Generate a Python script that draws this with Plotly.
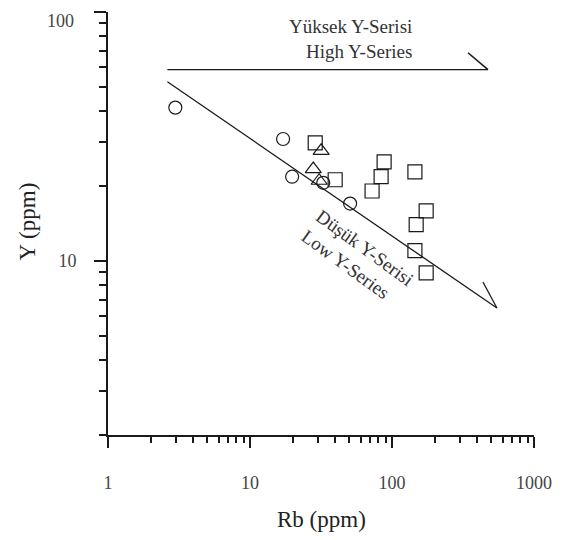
import plotly.graph_objects as go

# ---- data ----
circle_rb = [2.98, 17.1, 19.8, 32.8, 50.7]
circle_y = [41.3, 30.9, 21.8, 20.6, 17.0]

triangle_rb = [31.7, 27.9, 30.7]
triangle_y = [27.7, 23.4, 21.0]

square_rb = [28.8, 88.0, 83.8, 72.4, 145, 174, 148, 145, 174, 39.8]
square_y = [29.8, 25.0, 21.8, 19.1, 22.8, 15.9, 14.0, 11.0, 8.95, 21.2]

high_line_rb = [2.62, 474]
high_line_y = [58.7, 58.7]
high_arrow_rb = [343, 474]
high_arrow_y = [68.6, 58.7]

low_line_rb = [2.62, 548]
low_line_y = [52.5, 6.47]
low_arrow_rb = [437, 548]
low_arrow_y = [8.23, 6.47]

x_major = [1, 10, 100, 1000]
x_major_text = ["1", "10", "100", "1000"]
x_minor = [2, 3, 4, 5, 6, 7, 8, 9, 20, 30, 40, 50, 60, 70, 80, 90,
           200, 300, 400, 500, 600, 700, 800, 900]
y_major = [10, 100]
y_major_text = ["10", ""]          # the top label "100" is drawn as text below
y_top_label = "100"
y_minor = [2, 3, 4, 5, 6, 7, 8, 9, 20, 30, 40, 50, 60, 70, 80, 90]

high_label = "Yüksek Y-Serisi<br>High Y-Series"
low_label = "Düşük Y-Serisi<br>Low Y-Series"
x_title = "Rb (ppm)"
y_title = "Y (ppm)"

SERIF = "Liberation Serif, Times New Roman, serif"
INK = "#1a1a1a"
TICKFONT = dict(family=SERIF, size=18, color="#444")

fig = go.Figure()

for xs, ys, w in [(high_line_rb, high_line_y, 1.1), (high_arrow_rb, high_arrow_y, 1.6),
                  (low_line_rb, low_line_y, 1.3), (low_arrow_rb, low_arrow_y, 1.3)]:
    fig.add_trace(go.Scatter(x=xs, y=ys, mode="lines",
                             line=dict(color=INK, width=w), hoverinfo="skip"))

fig.add_trace(go.Scatter(x=circle_rb, y=circle_y, mode="markers",
                         marker=dict(symbol="circle-open", size=13, color=INK,
                                     line=dict(width=1.2, color=INK))))
fig.add_trace(go.Scatter(x=triangle_rb, y=triangle_y, mode="markers",
                         marker=dict(symbol="triangle-up-open", size=14, color=INK,
                                     line=dict(width=1.2, color=INK))))
fig.add_trace(go.Scatter(x=square_rb, y=square_y, mode="markers",
                         marker=dict(symbol="square-open", size=14, color=INK,
                                     line=dict(width=1.2, color=INK))))

axis_common = dict(
    type="log", showgrid=False, zeroline=False, showline=True, automargin=False,
    linecolor=INK, linewidth=2, ticks="outside", tickwidth=2, tickcolor=INK,
    tickfont=TICKFONT,
)

fig.update_xaxes(**axis_common, range=[0, 3], tickvals=x_major, ticktext=x_major_text,
                 ticklen=11, ticklabelstandoff=19,
                 minor=dict(tickvals=x_minor, ticks="outside", ticklen=6,
                            tickwidth=1.6, tickcolor=INK, showgrid=False))
fig.update_yaxes(**axis_common, range=[0.30103, 2], tickvals=y_major, ticktext=y_major_text,
                 ticklen=12, ticklabelstandoff=14,
                 minor=dict(tickvals=y_minor, ticks="outside", ticklen=7,
                            tickwidth=1.6, tickcolor=INK, showgrid=False))

fig.add_annotation(text=y_top_label, x=-0.076, y=1.007, xref="paper", yref="paper",
                   xanchor="right", yanchor="top", showarrow=False, font=TICKFONT)
fig.add_annotation(text=high_label, x=2.155, y=1.893, xref="x", yref="y",
                   xanchor="right", yanchor="middle", align="right", showarrow=False,
                   font=dict(family=SERIF, size=19, color="#333"))
fig.add_annotation(text=low_label, x=1.758, y=1.012, xref="x", yref="y",
                   xanchor="center", yanchor="middle", align="left", showarrow=False,
                   textangle=36, font=dict(family=SERIF, size=19, color="#333"))
fig.add_annotation(text=x_title, x=0.5, y=-0.2, xref="paper", yref="paper",
                   xanchor="center", yanchor="middle", showarrow=False,
                   font=dict(family=SERIF, size=23, color="#222"))
fig.add_annotation(text=y_title, x=-0.1887, y=0.504, xref="paper", yref="paper",
                   xanchor="center", yanchor="middle", showarrow=False, textangle=-90,
                   font=dict(family=SERIF, size=23, color="#222"))

fig.update_layout(width=563, height=540, margin=dict(l=100, r=37, t=4, b=113),
                  showlegend=False, plot_bgcolor="white", paper_bgcolor="white")

fig.write_html("out.html")
